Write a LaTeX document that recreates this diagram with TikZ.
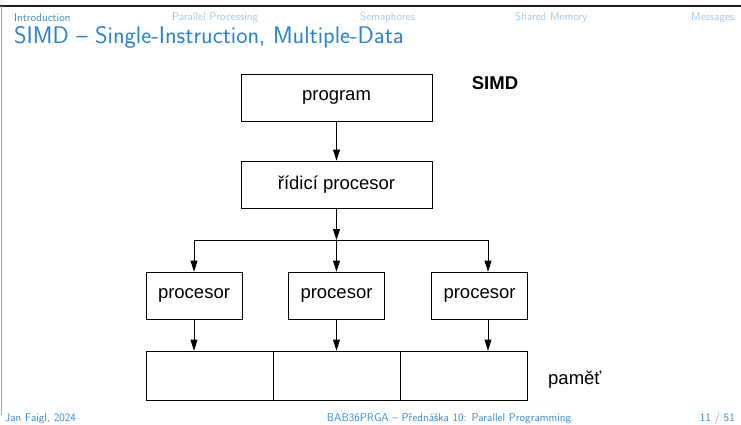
\documentclass[tikz,border=0pt]{standalone}
\usepackage{fontspec}
\newfontfamily\arialf{Liberation Sans}
\usetikzlibrary{arrows.meta}
\definecolor{navactive}{RGB}{52,140,212}
\definecolor{navinactive}{RGB}{160,202,238}
\definecolor{titleblue}{RGB}{40,130,210}
\definecolor{frameline}{RGB}{30,30,30}
\begin{document}
\begin{tikzpicture}[x=1pt,y=-1pt,
  box/.style={draw,line width=0.8pt,minimum width=191pt,minimum height=47pt,inner sep=0pt,font=\arialf\fontsize{18.5}{20}\selectfont},
  pbox/.style={draw,line width=0.8pt,minimum width=96pt,minimum height=47pt,inner sep=0pt,font=\arialf\fontsize{18.5}{20}\selectfont},
  mbox/.style={draw,line width=0.8pt,minimum height=49pt,inner sep=0pt},
  conn/.style={line width=0.8pt,-{Triangle[length=11pt,width=7pt]}},
  plain/.style={line width=0.8pt},
  nav/.style={font=\sffamily\fontsize{11.3}{12}\selectfont,inner sep=0pt,anchor=west},
  foot/.style={font=\sffamily\fontsize{11.3}{12}\selectfont,inner sep=0pt,text=navactive},
  lbl/.style={font=\arialf\fontsize{18.5}{20}\selectfont,inner sep=0pt}
]
\useasboundingbox (0,0) rectangle (741,425);
% slide frame
\draw[frameline,line width=2pt] (0,6) -- (741,6);
\draw[gray!70,line width=1pt] (1.5,6) -- (1.5,415);
% navigation
\node[nav,text=navactive] (n1) at (14,18) {Introduction};
\node[nav,text=navinactive] (n2) at (172,18) {Parallel Processing};
\node[nav,text=navinactive] (n3) at (360,18) {Semaphores};
\node[nav,text=navinactive] (n4) at (515,18) {Shared Memory};
\node[nav,text=navinactive] (n5) at (691,18) {Messages};
% title
\node[font=\sffamily\fontsize{24}{26}\selectfont,text=titleblue,inner sep=0pt,anchor=west] (title) at (14,37) {SIMD -- Single-Instruction, Multiple-Data};
% diagram
\node[box] (prog) at (336.5,97.5) {program};
\node[box] (ctrl) at (336.5,184.5) {řídicí procesor};
\node[lbl,font=\arialf\bfseries\fontsize{18.5}{20}\selectfont] (simd) at (495,83) {SIMD};
\coordinate (j) at (336.5,240);
\coordinate (jl) at (194,240);
\coordinate (jr) at (488,240);
\node[pbox] (p1) at (194,295.5) {procesor};
\node[pbox] (p2) at (336.5,295.5) {procesor};
\node[pbox] (p3) at (479.5,295.5) {procesor};
\node[mbox,minimum width=127pt] (m1) at (209.5,375.5) {};
\node[mbox,minimum width=127pt] (m2) at (336.5,375.5) {};
\node[mbox,minimum width=127pt] (m3) at (463.5,375.5) {};
\node[lbl,anchor=west] (mem) at (548,380) {paměť};
\draw[conn] (prog) -- (ctrl);
\draw[conn] (ctrl) -- (j);
\draw[plain] (jl) -- (jr);
\draw[conn] (jl) -- (p1);
\draw[conn] (j) -- (p2);
\draw[conn] (jr) -- (jr |- p3.north);
\draw[conn] (p1) -- (p1 |- m1.north);
\draw[conn] (p2) -- (m2);
\draw[conn] (jr |- p3.south) -- (jr |- m3.north);
% footer
\node[foot,anchor=west] (f1) at (5,419) {Jan Faigl, 2024};
\node[foot] (f2) at (449,419) {BAB36PRGA -- Přednáška 10: Parallel Programming};
\node[foot,anchor=east] (f3) at (735,419) {11 / 51};
\end{tikzpicture}
\end{document}
